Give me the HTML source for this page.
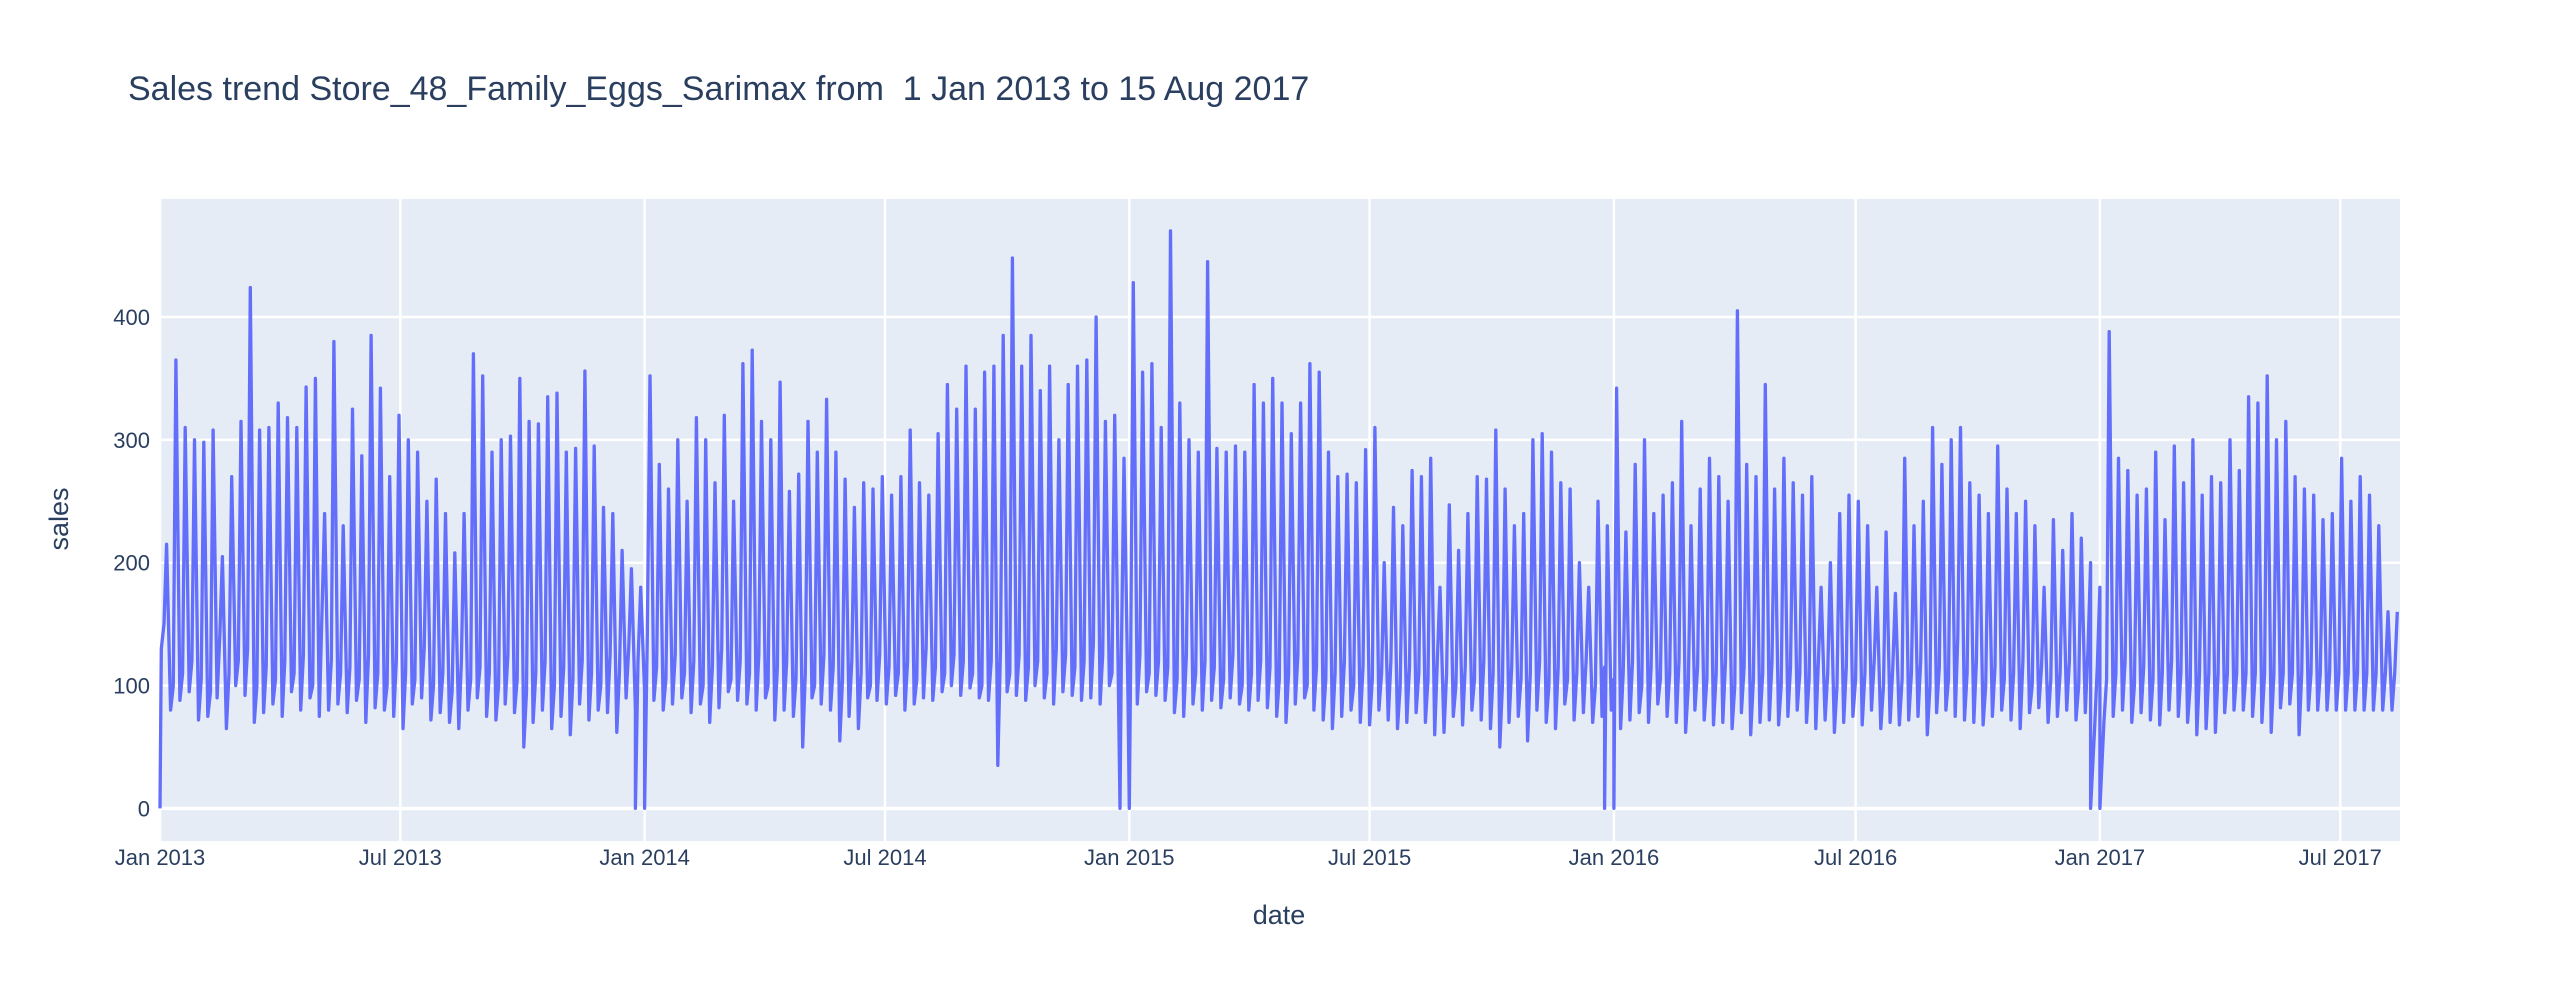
<!DOCTYPE html>
<html><head><meta charset="utf-8"><style>
html,body{margin:0;padding:0;background:#fff;}
svg{display:block;font-family:"Liberation Sans","DejaVu Sans",sans-serif;}
</style></head>
<body>
<svg id="chart" width="2560" height="1000">
<text x="128" y="100" font-size="34" fill="#2a3f5f" style="white-space:pre">Sales trend Store_48_Family_Eggs_Sarimax from  1 Jan 2013 to 15 Aug 2017</text>
<rect x="160" y="199" width="2240" height="642" fill="#E5ECF6"/>
<g id="grid"></g>
<g id="series"></g>
<g id="ticks"></g>
<text x="1279" y="924" font-size="27" fill="#2a3f5f" text-anchor="middle">date</text>
<text x="0" y="0" font-size="27" fill="#2a3f5f" text-anchor="middle" transform="translate(68,519) rotate(-90)">sales</text>
</svg>
<script>
const xTickLabels = ["Jan 2013","Jul 2013","Jan 2014","Jul 2014","Jan 2015","Jul 2015","Jan 2016","Jul 2016","Jan 2017","Jul 2017"];
const xTickDays = [0,181,365,546,730,911,1095,1277,1461,1642];
const yTickValues = [0,100,200,300,400];
const weeklyPeaks = [
215,365,310,300,298,308,205,270,315,424,
308,310,330,318,310,343,350,240,380,230,325,287,385,342,270,320,300,290,250,268,240,208,240,370,352,290,300,303,350,315,313,335,338,290,293,356,295,245,240,210,195,180,
352,280,260,300,250,318,300,265,320,250,362,373,315,300,347,258,272,315,290,333,290,268,245,265,260,270,255,270,308,265,255,305,345,325,360,325,355,360,385,448,
360,385,340,360,300,345,360,365,400,315,320,285,
428,355,362,310,470,330,300,290,445,
293,290,295,290,345,330,350,330,305,330,362,355,290,270,272,265,292,310,200,245,230,275,270,285,180,247,210,240,270,268,308,260,230,240,300,305,290,265,260,200,180,250,230,
342,225,280,300,240,255,265,315,230,260,285,270,250,405,
280,270,345,260,285,265,255,270,180,200,240,255,250,230,180,225,175,285,230,250,310,280,300,310,265,255,240,295,260,240,250,230,180,235,210,240,220,200,180,
388,285,275,255,260,290,235,295,265,300,255,270,265,300,275,335,330,352,
300,315,270,260,255,235,240,285,250,270,255,230,160,160];
const weeklyLows = [
130,80,88,95,72,75,90,65,100,92,
70,78,85,75,95,80,90,75,80,85,78,88,70,82,80,75,65,85,90,72,
78,70,65,80,90,75,72,85,78,50,70,80,65,75,60,85,72,80,78,62,90,80,
95,88,80,85,90,78,85,70,82,95,88,85,80,90,72,80,75,50,90,85,80,55,75,65,90,88,85,92,80,85,90,88,95,100,92,98,90,88,
35,95,92,88,100,90,85,95,92,88,90,85,100,80,90,85,95,92,88,78,75,85,80,88,82,90,85,80,88,82,75,70,85,90,80,72,65,75,80,70,68,80,72,65,70,78,70,60,62,75,68,80,72,65,50,70,
75,55,80,70,65,85,72,78,70,75,80,65,72,78,70,85,75,70,62,80,72,68,70,65,78,60,70,72,68,75,80,70,65,72,62,70,75,68,80,65,70,68,72,75,
60,78,80,75,72,70,68,75,80,72,65,78,82,70,75,80,72,78,65,70,75,80,70,78,72,68,80,75,70,60,65,62,78,80,80,75,70,62,82,85,60];
const weeklyMids = [
150,100,110,120,105,95,140,110,120,130,
100,115,105,120,110,125,100,160,120,110,115,105,125,110,100,120,110,105,130,100,
110,95,120,105,115,110,100,125,105,95,110,120,100,115,105,120,110,100,125,110,130,120,
140,115,105,125,110,120,100,115,130,105,120,110,125,100,115,120,105,110,100,125,115,105,120,110,100,125,115,110,120,105,130,115,110,125,120,110,
100,120,130,110,125,115,120,110,130,125,115,120,135,125,110,120,115,125,110,120,115,105,125,110,120,115,105,125,100,110,120,115,105,110,125,100,115,105,110,120,100,115,105,110,120,100,115,110,105,120,
110,100,115,105,120,110,100,115,105,110,120,100,115,105,110,120,100,115,105,110,120,100,115,105,110,120,100,115,105,110,120,100,115,105,110,120,100,115,110,105,
120,110,100,115,105,110,120,100,115,105,110,120,100,115,105,140,110,120,100,115,105,110,120,100,115,105,110,120,100,130,115,105,110,120,100,115,105,110,120,110,100];
const zeroDays = [0,358,365,723,730,1088,1095,1454,1461];

const NS="http://www.w3.org/2000/svg";
const X0=160,X1=2400,Y0=199,Y1=841;
const DMAX=1687, YMIN=-26.5, YMAX=496;
function xs(d){return X0+(X1-X0)*d/DMAX;}
function ys(v){return Y1-(Y1-Y0)*(v-YMIN)/(YMAX-YMIN);}
function mk(tag,attrs,parent){const e=document.createElementNS(NS,tag);for(const k in attrs)e.setAttribute(k,attrs[k]);parent.appendChild(e);return e;}
const grid=document.getElementById('grid'),ticks=document.getElementById('ticks'),series=document.getElementById('series');
yTickValues.forEach(v=>{
  const l=mk('line',{x1:X0,x2:X1,y1:ys(v),y2:ys(v),stroke:'#fff','stroke-width':v===0?3.5:2.5},grid);
  
  
  const t=mk('text',{x:X0-10,y:ys(v)+8,'font-size':22,fill:'#2a3f5f','text-anchor':'end'},ticks);
  t.textContent=v;
  
  
});
xTickDays.forEach((d,i)=>{
  const l=mk('line',{x1:xs(d),x2:xs(d),y1:Y0,y2:Y1,stroke:'#fff','stroke-width':2.5},grid);
  
  
  const t=mk('text',{x:xs(d),y:865,'font-size':22,fill:'#2a3f5f','text-anchor':'middle'},ticks);
  t.textContent=xTickLabels[i];
  
  
});
let pts=[];
weeklyPeaks.forEach((p,i)=>{
  pts.push([7*i+1,weeklyLows[i]!==undefined?weeklyLows[i]:80]);
  pts.push([7*i+3,weeklyMids[i]!==undefined?weeklyMids[i]:110]);
  pts.push([7*i+5,p]);
});
zeroDays.forEach(d=>pts.push([d,0]));
pts=pts.filter(p=>p[0]<=DMAX).sort((a,b)=>a[0]-b[0]);
const path=mk('path',{d:pts.map((p,i)=>(i?'L':'M')+xs(p[0]).toFixed(1)+','+ys(p[1]).toFixed(1)).join(''),fill:'none',stroke:'#636efa','stroke-width':3.3,'stroke-linejoin':'round'},series);


</script>
</body></html>
